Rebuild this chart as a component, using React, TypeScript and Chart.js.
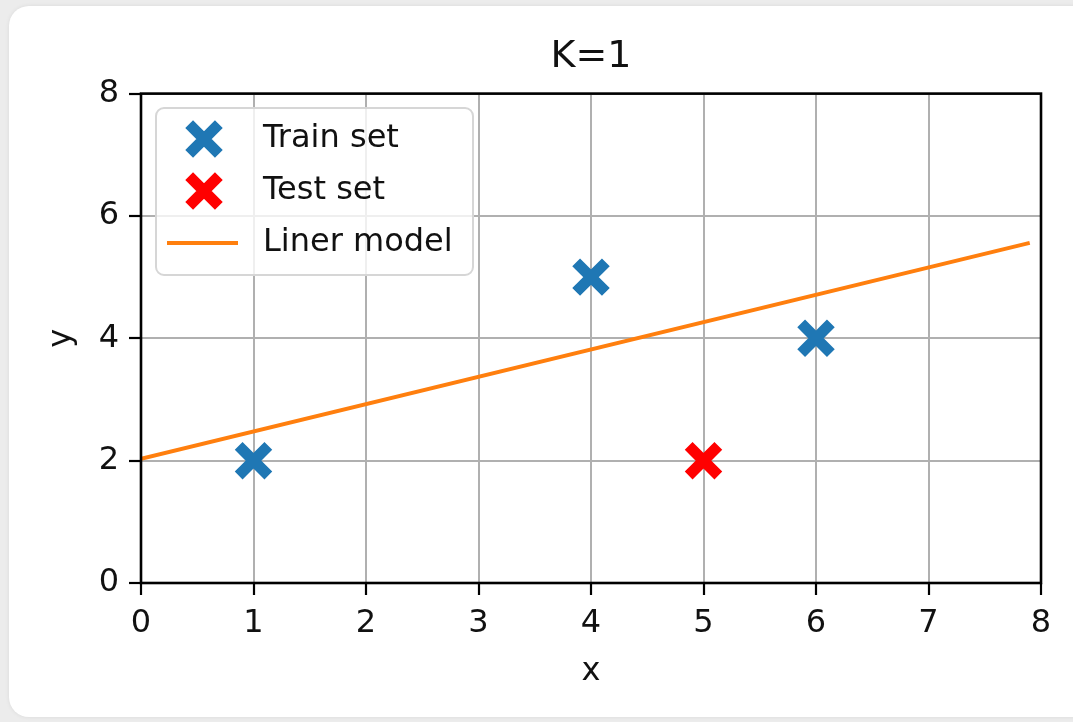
import React, { useEffect, useRef } from "react";
import { Chart, registerables } from "chart.js";

Chart.register(...registerables);

const chartTitle = "K=1";
const xLabel = "x";
const yLabel = "y";
const trainX = [1, 4, 6];
const trainY = [2, 5, 4];
const testX = [5];
const testY = [2];
const modelX = [0, 7.9];
const modelY = [2.03, 5.56];
const seriesLabels = ["Train set", "Test set", "Liner model"];
const seriesColors = ["#1f77b4", "#ff0000", "#ff7f0e"];

const FONT = "'DejaVu Sans', sans-serif";
const TXT = "#111";

const framePlugin = {
  id: "frame",
  afterDatasetsDraw(chart: any) {
    const { ctx, chartArea: a } = chart;
    ctx.save();
    ctx.strokeStyle = "#000";
    ctx.lineWidth = 2.6;
    ctx.strokeRect(a.left, a.top, a.right - a.left, a.bottom - a.top);
    ctx.restore();
  },
};

const legendPlugin = {
  id: "mplLegend",
  afterDraw(chart: any) {
    const { ctx } = chart;
    const bx = 156, by = 108, bw = 317, bh = 167;
    ctx.save();
    ctx.beginPath();
    ctx.roundRect(bx, by, bw, bh, 8);
    ctx.fillStyle = "rgba(255,255,255,0.8)";
    ctx.fill();
    ctx.strokeStyle = "#d6d6d6";
    ctx.lineWidth = 2;
    ctx.stroke();
    const rows = [139, 191, 243];
    chart.data.datasets.forEach((ds: any, i: number) => {
      const cy = rows[i];
      const cx = 204;
      ctx.strokeStyle = ds.borderColor;
      ctx.lineCap = "butt";
      if (ds.type === "line") {
        ctx.lineWidth = 4;
        ctx.beginPath();
        ctx.moveTo(167, cy);
        ctx.lineTo(238, cy);
        ctx.stroke();
      } else {
        const r = ds.pointRadius;
        const o = Math.cos(Math.PI / 4) * r;
        ctx.lineWidth = ds.pointBorderWidth;
        ctx.beginPath();
        ctx.moveTo(cx - o, cy - o);
        ctx.lineTo(cx + o, cy + o);
        ctx.moveTo(cx - o, cy + o);
        ctx.lineTo(cx + o, cy - o);
        ctx.stroke();
      }
      ctx.fillStyle = TXT;
      ctx.font = `32px ${FONT}`;
      ctx.textBaseline = "middle";
      ctx.textAlign = "left";
      ctx.fillText(ds.label, 263, cy);
    });
    ctx.restore();
  },
};

export default function App() {
  const ref = useRef<HTMLCanvasElement>(null);
  useEffect(() => {
    document.body.style.margin = "0";
    const toPts = (xs: number[], ys: number[]) => xs.map((x, i) => ({ x, y: ys[i] }));
    const chart = new Chart(ref.current!, {
      type: "scatter",
      data: {
        datasets: [
          {
            type: "scatter",
            label: seriesLabels[0],
            data: toPts(trainX, trainY),
            pointStyle: "crossRot",
            pointRadius: 21,
            pointBorderWidth: 11,
            borderColor: seriesColors[0],
            backgroundColor: seriesColors[0],
          },
          {
            type: "scatter",
            label: seriesLabels[1],
            data: toPts(testX, testY),
            pointStyle: "crossRot",
            pointRadius: 21,
            pointBorderWidth: 11,
            borderColor: seriesColors[1],
            backgroundColor: seriesColors[1],
          },
          {
            type: "line",
            label: seriesLabels[2],
            data: toPts(modelX, modelY),
            borderColor: seriesColors[2],
            borderWidth: 4,
            pointRadius: 0,
            fill: false,
          },
        ] as any,
      },
      options: {
        animation: false,
        responsive: false,
        events: [],
        layout: { padding: { left: 0, right: 29, top: 0, bottom: 0 } },
        plugins: {
          legend: { display: false },
          tooltip: { enabled: false },
          title: {
            display: true,
            text: chartTitle,
            fullSize: false,
            color: TXT,
            font: { family: FONT, size: 38, weight: "normal" },
            padding: { top: 34, bottom: 14 },
          },
        },
        scales: {
          x: {
            type: "linear",
            min: 0,
            max: 8,
            afterFit: (s: any) => {
              s.height = 139;
              s.paddingRight = 0;
              s.paddingLeft = 0;
            },
            ticks: { stepSize: 1, color: TXT, font: { family: FONT, size: 32 }, padding: 9 },
            grid: { color: "#b0b0b0", lineWidth: 2, tickColor: "#000", tickLength: 12, tickWidth: 2.2 },
            border: { display: false },
            title: {
              display: true,
              text: xLabel,
              color: TXT,
              font: { family: FONT, size: 32 },
              padding: { top: 0, bottom: 31 },
            },
          },
          y: {
            type: "linear",
            min: 0,
            max: 8,
            afterFit: (s: any) => { s.width = 141; },
            ticks: { stepSize: 2, color: TXT, font: { family: FONT, size: 32 }, padding: 10 },
            grid: { color: "#b0b0b0", lineWidth: 2, tickColor: "#000", tickLength: 12, tickWidth: 2.2 },
            border: { display: false },
            title: {
              display: true,
              text: yLabel,
              color: TXT,
              font: { family: FONT, size: 32 },
              padding: { top: 42, bottom: 0 },
            },
          },
        },
      } as any,
      plugins: [framePlugin, legendPlugin],
    });
    return () => chart.destroy();
  }, []);

  return (
    <div style={{ position: "fixed", left: 0, top: 0, width: 1073, height: 722, background: "#ececec", overflow: "hidden" }}>
      <div
        style={{
          position: "absolute",
          left: 9,
          top: 6,
          width: 1100,
          height: 711,
          background: "#fff",
          borderRadius: 20,
          boxShadow: "0 0 4px rgba(0,0,0,0.08)",
        }}
      />
      <canvas ref={ref} width={1073} height={722} style={{ position: "absolute", left: 0, top: 0, width: 1073, height: 722 }} />
    </div>
  );
}
